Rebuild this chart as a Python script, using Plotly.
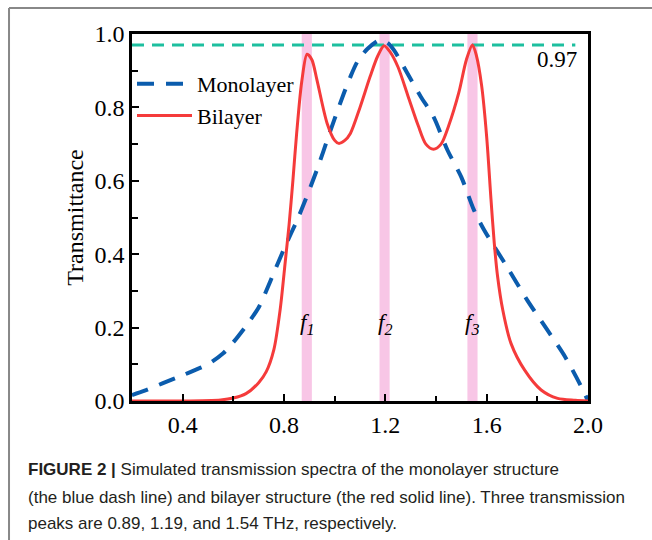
import plotly.graph_objects as go

# ---- data ----
freq_mono = [0.20, 0.25, 0.32, 0.40, 0.455, 0.50, 0.56, 0.60, 0.653, 0.70, 0.72, 0.77, 0.81,
             0.85, 0.88, 0.93, 0.98, 1.036, 1.06, 1.09, 1.13, 1.18, 1.21, 1.234, 1.287, 1.34,
             1.39, 1.445, 1.50, 1.55, 1.59, 1.68, 1.76, 1.84, 1.91, 1.98, 2.00]
trans_mono = [0.016, 0.028, 0.048, 0.07, 0.086, 0.10, 0.13, 0.16, 0.207, 0.255, 0.284, 0.366, 0.43,
              0.49, 0.54, 0.63, 0.73, 0.838, 0.88, 0.925, 0.96, 0.984, 0.975, 0.956, 0.893, 0.829,
              0.775, 0.684, 0.61, 0.52, 0.466, 0.366, 0.275, 0.193, 0.12, 0.03, 0.0]

freq_bi = [0.20, 0.40, 0.55, 0.60, 0.65, 0.70, 0.73, 0.76, 0.785, 0.805, 0.82, 0.835, 0.85, 0.87,
           0.891, 0.91, 0.93, 0.97, 1.00, 1.016, 1.04, 1.062, 1.10, 1.14, 1.17, 1.195, 1.22, 1.25,
           1.29, 1.33, 1.36, 1.39, 1.42, 1.45, 1.49, 1.52, 1.544, 1.56, 1.58, 1.60, 1.617, 1.63,
           1.643, 1.663, 1.696, 1.75, 1.815, 1.88, 1.95, 2.00]
trans_bi = [0.0, 0.0, 0.003, 0.008, 0.02, 0.05, 0.08, 0.14, 0.25, 0.38, 0.48, 0.60, 0.73, 0.87,
            0.945, 0.93, 0.875, 0.757, 0.71, 0.702, 0.71, 0.729, 0.80, 0.884, 0.94, 0.968, 0.95, 0.91,
            0.83, 0.75, 0.70, 0.686, 0.70, 0.75, 0.84, 0.93, 0.97, 0.94, 0.86, 0.72, 0.55, 0.43,
            0.34, 0.25, 0.157, 0.084, 0.03, 0.007, 0.002, 0.0]

ref_level = 0.97
ref_x = [0.20, 1.95]
peak_freqs = [0.89, 1.197, 1.544]
peak_names = ["1", "2", "3"]
band_half = 0.02

x_ticks = [0.4, 0.8, 1.2, 1.6, 2.0]
x_minor = [0.6, 1.0, 1.4, 1.8]
y_ticks = [0.0, 0.2, 0.4, 0.6, 0.8, 1.0]
y_minor = [0.1, 0.3, 0.5, 0.7, 0.9]

caption_lines = [
    "<b>FIGURE 2 |</b> Simulated transmission spectra of the monolayer structure",
    "(the blue dash line) and bilayer structure (the red solid line). Three transmission",
    "peaks are 0.89, 1.19, and 1.54 THz, respectively.",
]

SERIF = "Liberation Serif, Times New Roman, serif"

fig = go.Figure()

fig.add_trace(go.Scatter(
    x=ref_x, y=[ref_level] * len(ref_x), mode="lines",
    line=dict(color="#1DBF9F", width=3, dash="12px,8px"),
    showlegend=False, hoverinfo="skip"))

fig.add_trace(go.Scatter(
    x=freq_mono, y=trans_mono, mode="lines", name="Monolayer",
    line=dict(color="#0B5CAD", width=4, dash="17px,12px", shape="spline", smoothing=0.8)))

fig.add_trace(go.Scatter(
    x=freq_bi, y=trans_bi, mode="lines", name="Bilayer",
    line=dict(color="#F53B3B", width=3, shape="spline", smoothing=0.8)))

for f in peak_freqs:
    fig.add_shape(type="rect", xref="x", yref="paper", x0=f - band_half, x1=f + band_half,
                  y0=0, y1=1, fillcolor="#F8C6E6", line=dict(width=0), layer="below")

for f, n in zip(peak_freqs, peak_names):
    fig.add_annotation(x=f, y=0.21, xref="x", yref="y", showarrow=False,
                       text=f"<i>f</i><sub><i>{n}</i></sub>",
                       font=dict(family=SERIF, size=23, color="black"))

fig.add_annotation(x=1.965, y=0.93, xref="x", yref="y", showarrow=False,
                   xanchor="right", yanchor="middle", text=f"{ref_level:.2f}",
                   font=dict(family=SERIF, size=23, color="black"))

# outer figure frame (top and left edges)
fig.add_shape(type="line", xref="paper", yref="paper", x0=-0.2697, x1=1.2, y0=1.0708, y1=1.0708,
              line=dict(color="#888888", width=2), layer="above")
fig.add_shape(type="line", xref="paper", yref="paper", x0=-0.2697, x1=-0.2697, y0=1.0708, y1=-0.5,
              line=dict(color="#888888", width=2), layer="above")

cap_y = [-0.188, -0.262, -0.333]
for txt, yy in zip(caption_lines, cap_y):
    fig.add_annotation(x=-0.2325, y=yy, xref="paper", yref="paper", showarrow=False,
                       xanchor="left", yanchor="middle", text=txt,
                       font=dict(family="Liberation Sans, Arial, sans-serif", size=17, color="#231F20"))

axis_common = dict(showline=True, linecolor="black", linewidth=2.5, mirror=True,
                   ticks="inside", ticklen=7, tickwidth=2, tickcolor="black",
                   showgrid=False, zeroline=False,
                   tickfont=dict(family=SERIF, size=24, color="black"))

fig.update_xaxes(range=[0.2, 2.0], tickvals=x_ticks, ticktext=[f"{v:.1f}" for v in x_ticks],
                 minor=dict(tickvals=x_minor, ticks="inside", ticklen=5, tickwidth=2, tickcolor="black"),
                 **axis_common)
fig.update_yaxes(range=[0, 1.0], tickvals=y_ticks, ticktext=[f"{v:.1f}" for v in y_ticks],
                 minor=dict(tickvals=y_minor, ticks="inside", ticklen=6, tickwidth=2, tickcolor="black"),
                 title=dict(text="Transmittance", font=dict(family=SERIF, size=24, color="black"), standoff=5),
                 **axis_common)

fig.update_layout(
    width=652, height=540,
    margin=dict(l=132, r=64, t=34, b=139),
    plot_bgcolor="white", paper_bgcolor="white",
    legend=dict(x=0.0, y=0.921, xanchor="left", yanchor="top", bgcolor="rgba(0,0,0,0)",
                font=dict(family=SERIF, size=22, color="black"), itemwidth=55,
                tracegroupgap=0),
)

fig.write_html("out.html", config={"displayModeBar": False},
               post_script="document.body.style.margin='0';")
